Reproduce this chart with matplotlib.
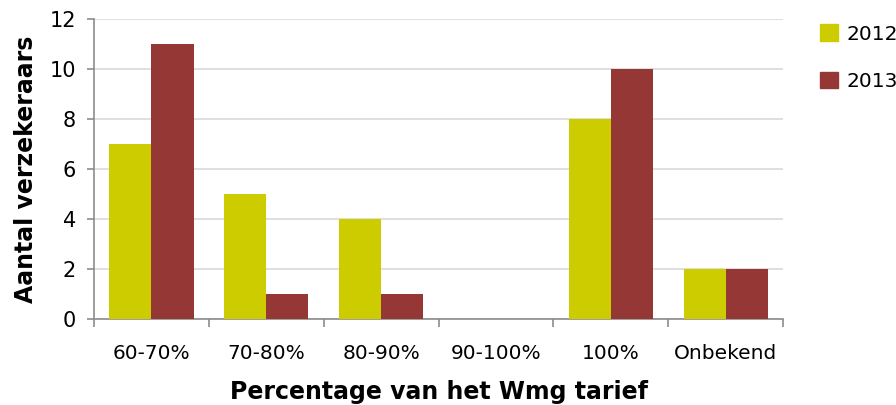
import numpy as np
import matplotlib.pyplot as plt
from matplotlib.patches import Patch

# ------------------------------------ Data ----------------------------------
categories = ["60-70%", "70-80%", "80-90%", "90-100%", "100%", "Onbekend"]
values_2012 = [7, 5, 4, 0, 8, 2]
values_2013 = [11, 1, 1, 0, 10, 2]
series_labels = ["2012", "2013"]
y_ticks = [0, 2, 4, 6, 8, 10, 12]

COLOR_2012 = "#CCCC00"
COLOR_2013 = "#953735"
AXIS_GREY = "#8C8C8C"

# ------------------------------------ Plot ----------------------------------
fig = plt.figure(figsize=(8.96, 4.05), dpi=100)
ax = fig.add_axes([0.105, 0.2123, 0.769, 0.7407])

x = np.arange(len(categories))
w = 0.366
ax.bar(x - w / 2, values_2012, w, color=COLOR_2012, zorder=3)
ax.bar(x + w / 2, values_2013, w, color=COLOR_2013, zorder=3)

ax.set_xlim(-0.5, len(categories) - 0.5)
ax.set_ylim(0, 12)
ax.set_yticks(y_ticks)
ax.yaxis.grid(True, color="#D9D9D9", linewidth=1.2, zorder=0)

# category ticks sit on the boundaries, labels in the middle
ax.set_xticks(np.arange(len(categories) + 1) - 0.5)
ax.set_xticklabels([])
ax.set_xticks(x, minor=True)
ax.set_xticklabels(categories, minor=True, fontsize=14.5)
ax.tick_params(axis="x", which="major", length=6, color=AXIS_GREY, width=1.2)
ax.tick_params(axis="x", which="minor", length=0, pad=18)
ax.tick_params(axis="y", length=5, color=AXIS_GREY, width=1.2, labelsize=15, pad=8)

for side in ["top", "right"]:
    ax.spines[side].set_visible(False)
for side in ["left", "bottom"]:
    ax.spines[side].set_color(AXIS_GREY)
    ax.spines[side].set_linewidth(1.2)

ax.set_xlabel("Percentage van het Wmg tarief", fontsize=17, fontweight="bold", labelpad=12)
ax.set_ylabel("Aantal verzekeraars", fontsize=17, fontweight="bold", labelpad=8)

handles = [Patch(color=COLOR_2012), Patch(color=COLOR_2013)]
fig.legend(handles, series_labels, loc="upper left", bbox_to_anchor=(0.895, 0.985),
           frameon=False, fontsize=14.5, handlelength=0.9, handleheight=0.9,
           handletextpad=0.4, labelspacing=1.4)

fig.savefig("out.png", dpi=100)
